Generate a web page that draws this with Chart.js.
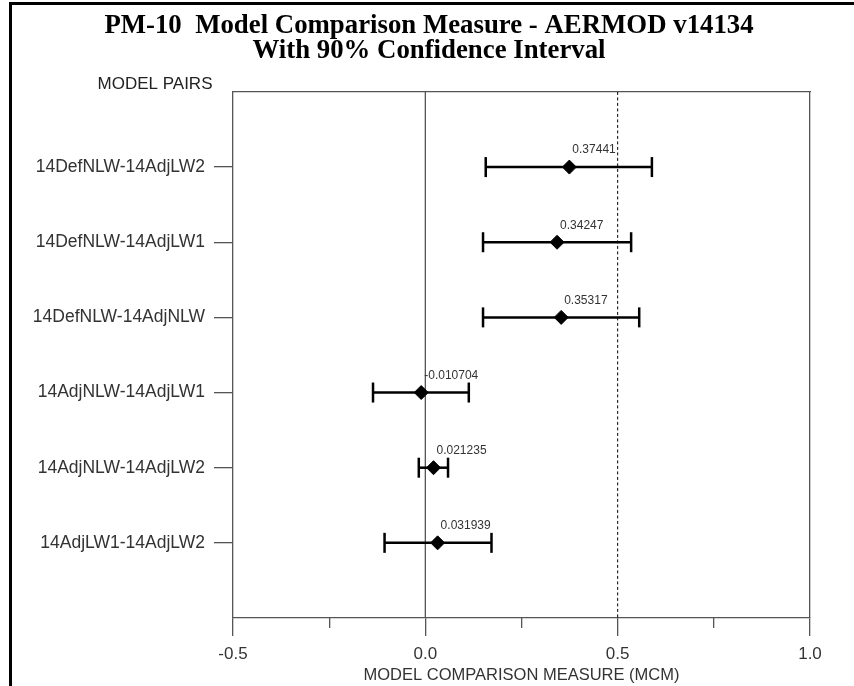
<!DOCTYPE html>
<html>
<head>
<meta charset="utf-8">
<script src="https://cdn.jsdelivr.net/npm/chart.js@4.4.0/dist/chart.umd.min.js"></script>
<style>
    html, body { margin: 0; padding: 0; background: #fff; }
    #wrap { position: relative; width: 854px; height: 686px; overflow: hidden; }
    #frame { position: absolute; left: 9px; top: 2px; right: 0; bottom: 0;
             border-top: 3px solid #000; border-left: 3px solid #000; pointer-events: none; }
    canvas { display: block; }
</style>
</head>
<body>
<div id="wrap">
    <canvas id="mcmChart" width="854" height="686"></canvas>
    <div id="frame"></div>
</div>
<script>
// --- data ---
const titleLines = ['PM-10  Model Comparison Measure - AERMOD v14134', 'With 90% Confidence Interval'];
const pairs = ['14DefNLW-14AdjLW2', '14DefNLW-14AdjLW1', '14DefNLW-14AdjNLW',
               '14AdjNLW-14AdjLW1', '14AdjNLW-14AdjLW2', '14AdjLW1-14AdjLW2'];
const mcm   = [0.37441, 0.34247, 0.35317, -0.010704, 0.021235, 0.031939];
const lower = [0.157, 0.150, 0.150, -0.136, -0.017, -0.106];
const upper = [0.589, 0.535, 0.556, 0.113, 0.059, 0.172];
const xMajorTicks = [-0.5, 0.0, 0.5, 1.0];
const xMinorTicks = [-0.25, 0.25, 0.75];
const zeroLine = 0;
const refLine = 0.5;

const rows = pairs.map((p, i) => i + 1);
const AXIS = '#555';
const SANS = '"Liberation Sans", Arial, sans-serif';

// mean diamonds
const datasets = [{
    label: 'MCM',
    data: rows.map((r, i) => ({ x: mcm[i], y: r })),
    showLine: false,
    pointStyle: 'rectRot',
    pointRadius: 7,
    backgroundColor: '#000',
    borderColor: '#000',
    borderWidth: 1
}];

// confidence interval bars (caps are rotated line points)
rows.forEach((r, i) => {
    datasets.push({
        label: pairs[i],
        data: [{ x: lower[i], y: r }, { x: upper[i], y: r }],
        showLine: true,
        borderColor: '#000',
        borderWidth: 2.5,
        pointStyle: 'line',
        pointRotation: 90,
        pointRadius: 10,
        pointBorderWidth: 2.5,
        pointBorderColor: '#000'
    });
});

// reference lines at 0 and 0.5
datasets.push({
    label: 'zero',
    data: [{ x: zeroLine, y: 0 }, { x: zeroLine, y: rows.length + 1 }],
    showLine: true, borderColor: AXIS, borderWidth: 1.3, pointRadius: 0
});
datasets.push({
    label: 'half',
    data: [{ x: refLine, y: 0 }, { x: refLine, y: rows.length + 1 }],
    showLine: true, borderColor: '#000', borderWidth: 1, borderDash: [3, 2.5], pointRadius: 0
});

const valueLabels = {
    id: 'valueLabels',
    afterDatasetsDraw(chart) {
        const ctx = chart.ctx;
        const meta = chart.getDatasetMeta(0);
        ctx.save();
        ctx.font = '12px ' + SANS;
        ctx.fillStyle = '#333';
        ctx.textAlign = 'left';
        ctx.textBaseline = 'middle';
        meta.data.forEach((pt, i) => ctx.fillText(String(mcm[i]), pt.x + 3, pt.y - 17));
        // y axis heading
        ctx.font = '17px ' + SANS;
        ctx.textAlign = 'center';
        ctx.fillStyle = '#222';
        ctx.fillText('MODEL PAIRS', 155, 84);
        ctx.restore();
    }
};

new Chart(document.getElementById('mcmChart'), {
    type: 'scatter',
    data: { datasets: datasets },
    plugins: [valueLabels],
    options: {
        responsive: false,
        animation: false,
        devicePixelRatio: 1,
        layout: { padding: { left: 14, right: 10, top: 0, bottom: 0 } },
        plugins: {
            legend: { display: false },
            tooltip: { enabled: false },
            title: {
                display: true,
                text: titleLines,
                color: '#000',
                font: { family: '"Liberation Serif", "Times New Roman", serif', size: 26.8, weight: 'bold', lineHeight: 0.95 },
                padding: { top: 13, bottom: 28 }
            }
        },
        scales: {
            x: {
                type: 'linear', position: 'bottom', weight: 1,
                min: -0.5, max: 1,
                afterBuildTicks: axis => { axis.ticks = xMajorTicks.map(v => ({ value: v })); },
                afterFit: axis => { axis.height = 68; },
                ticks: {
                    callback: v => Number(v).toFixed(1),
                    font: { family: SANS, size: 17 }, color: '#333',
                    padding: 8, maxRotation: 0, autoSkip: false
                },
                grid: { drawOnChartArea: false, tickLength: 18, color: AXIS, lineWidth: 1.3 },
                border: { color: AXIS, width: 1.3 },
                title: {
                    display: true, text: 'MODEL COMPARISON MEASURE (MCM)',
                    font: { family: SANS, size: 16.5 }, color: '#333',
                    padding: { top: 0, bottom: 1 }
                }
            },
            xMinor: {
                type: 'linear', position: 'bottom', weight: 0,
                min: -0.5, max: 1,
                afterBuildTicks: axis => { axis.ticks = xMinorTicks.map(v => ({ value: v })); },
                afterFit: axis => { axis.height = 0; },
                ticks: { display: false },
                grid: { drawOnChartArea: false, tickLength: 10, color: AXIS, lineWidth: 1.3 },
                border: { display: false }
            },
            xTop: {
                type: 'linear', position: 'top',
                min: -0.5, max: 1,
                afterFit: axis => { axis.height = 0; },
                ticks: { display: false },
                grid: { drawOnChartArea: false, drawTicks: false },
                border: { color: AXIS, width: 1.3 }
            },
            y: {
                type: 'linear', position: 'left', reverse: true,
                min: 0, max: rows.length + 1,
                afterBuildTicks: axis => { axis.ticks = rows.map(v => ({ value: v })); },
                afterFit: axis => { axis.width = 219; },
                ticks: {
                    callback: v => pairs[v - 1] || '',
                    font: { family: SANS, size: 17.5 }, color: '#333', padding: 9
                },
                grid: { drawOnChartArea: false, tickLength: 19, color: AXIS, lineWidth: 1.3 },
                border: { color: AXIS, width: 1.3 }
            },
            yRight: {
                type: 'linear', position: 'right',
                min: 0, max: rows.length + 1,
                afterFit: axis => { axis.width = 34; },
                ticks: { display: false },
                grid: { drawOnChartArea: false, drawTicks: false },
                border: { color: AXIS, width: 1.3 }
            }
        }
    }
});
</script>
</body>
</html>
